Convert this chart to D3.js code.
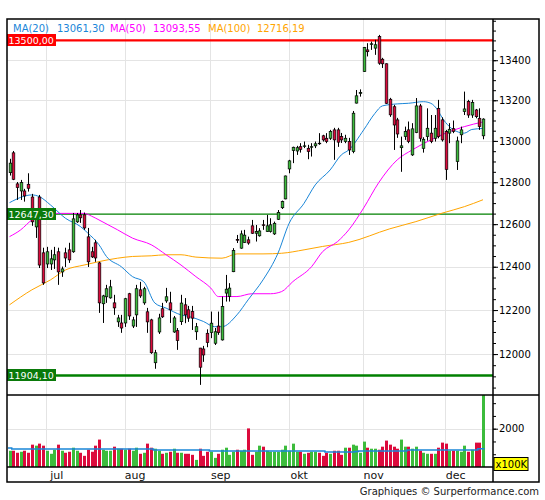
<!DOCTYPE html>
<html>
<head>
<meta charset="utf-8">
<title>Graphique</title>
<style>
  body { margin: 0; background: #fff; }
  text { font-family: "DejaVu Sans", Verdana, sans-serif; }
</style>
</head>
<body>
<svg id="main" width="545" height="500"></svg>
<script src="https://cdn.jsdelivr.net/npm/d3@7.8.5/dist/d3.min.js"></script>
<script>
// daily candles
const opens = [12846,12942,12792,12758,12758,12790,12729,12587,12729,12465,12413,12413,12432,12470,12376,12465,12479,12470,12611,12644,
  12644,12540,12470,12512,12418,12229,12261,12256,12233,12146,12141,12141,12275,12127,12178,12293,12233,12192,12155,11961,
  12100,12206,12242,12233,12100,12106,12147,12224,12201,12193,12101,12027,12023,12094,12097,12049,12127,12064,12278,12263,
  12377,12528,12487,12513,12526,12592,12557,12545,12597,12565,12565,12554,12623,12678,12720,12864,12953,12951,12972,12973,
  12964,12970,12976,12989,13025,13013,13013,13054,13054,13021,12997,12997,12948,13186,13234,13343,13452,13480,13461,13520,
  13405,13382,13205,13168,13103,12967,13021,13054,12932,13041,13172,12964,13021,13038,13013,13160,13103,13046,13038,13060,
  12900,13030,13144,13194,13127,13152,13111,13025]
const highs = [12913,12951,12801,12811,12768,12843,12744,12658,12739,12489,12493,12479,12493,12489,12401,12489,12512,12653,12653,12667,
  12655,12582,12493,12526,12423,12270,12316,12339,12270,12178,12178,12256,12279,12169,12316,12330,12307,12210,12160,12019,
  12183,12233,12302,12284,12173,12118,12270,12255,12219,12219,12141,12028,12037,12112,12193,12118,12193,12262,12362,12324,
  12487,12549,12570,12573,12541,12620,12596,12581,12620,12644,12628,12612,12667,12712,12832,12908,12972,12976,12989,12997,
  12981,12989,12997,13038,13030,13038,13054,13064,13064,13039,13030,13015,13147,13251,13254,13467,13486,13494,13503,13528,
  13412,13384,13212,13177,13113,13021,13070,13095,13087,13211,13182,13018,13160,13127,13127,13202,13116,13054,13087,13100,
  13021,13070,13243,13202,13202,13157,13160,13111]
const lows = [12832,12810,12715,12715,12707,12755,12592,12535,12394,12316,12394,12385,12390,12316,12353,12399,12418,12465,12606,12606,
  12573,12399,12441,12423,12187,12141,12233,12252,12178,12123,12096,12123,12155,12118,12123,12256,12224,12096,12001,11934,
  12091,12164,12233,12141,12096,12019,12132,12140,12146,12109,12064,11862,11965,12031,12072,12041,12087,12061,12239,12239,
  12375,12511,12484,12511,12503,12554,12518,12541,12573,12563,12560,12549,12620,12672,12718,12843,12892,12932,12943,12965,
  12911,12924,12965,12981,12997,12989,13005,12908,12971,12990,12989,12932,12940,13184,13218,13341,13419,13452,13427,13377,
  13361,13182,13118,12956,13015,12850,13005,12989,12927,13038,12997,12943,13001,12989,12997,13013,12997,12811,12989,13038,
  12859,12989,13127,13113,13113,13111,13054,13008]
const closes = [12892,12814,12774,12798,12734,12771,12611,12625,12408,12325,12470,12437,12456,12376,12390,12441,12432,12625,12644,12630,
  12582,12423,12446,12441,12233,12265,12298,12307,12210,12164,12118,12252,12173,12155,12298,12265,12298,12146,12006,12006,
  12164,12169,12261,12201,12164,12061,12232,12178,12163,12163,12124,11941,11996,12052,12140,12101,12097,12216,12296,12301,
  12476,12524,12554,12548,12511,12557,12565,12568,12594,12592,12597,12604,12656,12707,12830,12903,12969,12967,12959,12976,
  12948,12972,12986,12986,13005,12997,13046,13005,12994,13005,13013,12956,13136,13222,13238,13464,13443,13483,13478,13385,
  13382,13185,13128,13078,13034,12976,13046,12997,13059,13172,13013,13008,13062,12997,13062,13021,13005,12862,13057,13046,
  13000,13054,13157,13127,13189,13119,13070,13107]
// volume, units of 100K
const volumes = [849,849,743,796,849,743,1167,1114,1220,1114,849,690,902,1167,849,743,796,1008,849,743,
  583,902,796,1114,1432,902,849,849,1061,955,955,902,955,849,1008,690,743,1220,1008,955,
  849,690,743,796,955,743,743,690,690,636,371,955,583,796,796,477,690,902,1008,636,
  796,902,849,902,2016,636,796,1114,1061,849,796,796,796,902,1114,849,1220,796,796,690,
  743,796,796,743,583,743,690,849,849,636,1008,1008,1167,1114,743,1326,1008,955,955,902,
  1061,1379,1167,1061,955,1432,1061,1061,955,1061,849,743,690,690,690,1008,1273,1220,849,849,
  849,796,1114,796,902,1273,1273,3800]

// moving averages as [day, value]
const ma20 = [[0,12702],[6,12739],[8,12731],[11,12691],[15,12628],[19,12589],[21,12558],[24,12503],[26,12448],[30,12400],
  [33,12354],[36,12331],[39,12232],[42,12209],[46,12178],[48,12171],[52,12148],[55,12124],[57,12124],[61,12178],
  [64,12247],[68,12339],[72,12463],[75,12604],[79,12699],[82,12787],[86,12859],[89,12932],[91,12956],[95,13054],
  [98,13135],[100,13172],[104,13182],[107,13185],[111,13193],[113,13185],[115,13147],[116,13115],[118,13070],[120,13046],
  [122,13038],[124,13056],[127,13061]]
const ma50 = [[0,12541],[3,12573],[6,12620],[10,12651],[13,12651],[17,12651],[20,12651],[22,12638],[24,12620],[29,12573],
  [33,12534],[38,12503],[42,12456],[46,12408],[50,12354],[54,12301],[56,12262],[61,12262],[65,12275],[70,12275],
  [73,12285],[76,12331],[81,12400],[84,12471],[88,12518],[91,12573],[95,12677],[99,12797],[104,12908],[108,12956],
  [113,13005],[117,13038],[122,13070],[127,13093]]
const ma100 = [[0,12224],[6,12293],[11,12339],[15,12385],[20,12408],[24,12424],[29,12440],[33,12448],[38,12451],[42,12456],
  [46,12456],[50,12445],[57,12440],[61,12460],[68,12460],[73,12463],[79,12479],[84,12495],[91,12514],[102,12578],
  [109,12612],[116,12652],[122,12683],[127,12716]]
const volMa = [[0,990],[1,937],[39,884],[54,831],[85,778],[93,813],[94,831],[107,884],[126,955],[127,955]]

const maNames = ['MA(20)', 'MA(50)', 'MA(100)']
const maLast = [13061.30, 13093.55, 12716.19]
const levels = [13500.00, 12647.30, 11904.10]
const monthStarts = [10, 31, 54, 75, 95, 117]
const monthLabels = ['jul', 'aug', 'sep', 'okt', 'nov', 'dec']
const priceTicks = [12000, 12200, 12400, 12600, 12800, 13000, 13200, 13400]
const volTicks = [2000]

const svg = d3.select('#main')
const L = 7, R = 539, plotR = 493
const T = 19, mainB = 395, volB = 467, B = 482

const x = d3.scaleLinear().domain([0, opens.length - 1]).range([9.5, 483])
const y = d3.scaleLog().domain([11817, 13609]).range([mainB, T])
const yv = d3.scaleLinear().domain([0, 3760]).range([volB, mainB])
const fmt = v => d3.format('.2f')(v).replace('.', ',')

const up = '#3cbc3c', down = '#dc0a3c'
const maColors = ['#1a86d8', '#ff00ff', '#ffa500']

const data = opens.map((o, i) => ({ i, o, h: highs[i], l: lows[i], c: closes[i], v: volumes[i] }))

svg.append('defs').append('clipPath').attr('id', 'volclip')
  .append('rect').attr('x', L).attr('y', mainB).attr('width', plotR - L).attr('height', volB - mainB)

// grid
const grid = svg.append('g').attr('stroke', '#e4e4e4').attr('stroke-width', 1)
grid.selectAll('.hg').data(priceTicks).join('line')
  .attr('x1', L).attr('x2', plotR)
  .attr('y1', d => Math.round(y(d)) + 0.5).attr('y2', d => Math.round(y(d)) + 0.5)
grid.selectAll('.vg').data(volTicks).join('line')
  .attr('x1', L).attr('x2', plotR)
  .attr('y1', d => Math.round(yv(d)) + 0.5).attr('y2', d => Math.round(yv(d)) + 0.5)
grid.selectAll('.mg').data(monthStarts).join('line')
  .attr('x1', d => Math.round(x(d) - 0.5) + 0.5).attr('x2', d => Math.round(x(d) - 0.5) + 0.5)
  .attr('y1', T).attr('y2', volB)

// level lines
const levelColor = ['#ff0000', '#008000', '#008000']
const levelWidth = [2.4, 1.2, 2.4]
svg.selectAll('.lvl').data(levels).join('line')
  .attr('x1', L).attr('x2', plotR)
  .attr('y1', d => y(d)).attr('y2', d => y(d))
  .attr('stroke', (d, i) => levelColor[i]).attr('stroke-width', (d, i) => levelWidth[i])

// moving averages
const line = d3.line().x(d => x(d[0])).y(d => y(d[1])).curve(d3.curveMonotoneX)
;[ma100, ma50, ma20].forEach((s, k) => {
  svg.append('path').attr('d', line(s)).attr('fill', 'none')
    .attr('stroke', maColors[2 - k]).attr('stroke-width', 1)
})

// candles
const cx = i => Math.round(x(i)) + 0.5
const candles = svg.append('g')
candles.selectAll('.wick').data(data).join('line')
  .attr('x1', d => cx(d.i)).attr('x2', d => cx(d.i))
  .attr('y1', d => y(d.h)).attr('y2', d => y(d.l))
  .attr('stroke', '#000').attr('stroke-width', 1)
candles.selectAll('.body').data(data).join('rect')
  .attr('x', d => cx(d.i) - 1.3).attr('width', 2.6)
  .attr('y', d => y(Math.max(d.o, d.c)))
  .attr('height', d => Math.max(0.6, y(Math.min(d.o, d.c)) - y(Math.max(d.o, d.c))))
  .attr('fill', d => d.c >= d.o ? up : down)
  .attr('stroke', '#000').attr('stroke-width', 0.7)

// level labels
const lab = svg.selectAll('.lab').data(levels).join('g')
  .attr('transform', d => `translate(${L}, ${Math.round(y(d)) - 6})`)
lab.append('rect').attr('width', 49).attr('height', 12)
  .attr('fill', (d, i) => i === 0 ? '#ff0000' : '#0a7a0a')
lab.append('text').attr('x', 1.5).attr('y', 10).attr('font-size', 9.5).attr('fill', '#fff')
  .text(d => fmt(d))

// legend
const legX = [13, 57, 110, 153, 208, 257]
maNames.forEach((n, k) => {
  svg.append('text').attr('x', legX[2 * k]).attr('y', 31.5).attr('font-size', 10)
    .attr('fill', maColors[k]).text(n)
  svg.append('text').attr('x', legX[2 * k + 1]).attr('y', 31.5).attr('font-size', 10)
    .attr('fill', maColors[k]).text(fmt(maLast[k]))
})

// volume
const vol = svg.append('g').attr('clip-path', 'url(#volclip)')
vol.selectAll('rect').data(data).join('rect')
  .attr('x', d => Math.round(x(d.i)) - 1).attr('width', 3)
  .attr('y', d => yv(d.v)).attr('height', d => volB - yv(d.v))
  .attr('fill', d => d.c >= d.o ? up : down)
const vline = d3.line().x(d => x(d[0]) - 1.5).y(d => yv(d[1])).curve(d3.curveStepAfter)
vol.append('path').attr('d', vline(volMa.concat([[volMa[volMa.length - 1][0] + 0.8, volMa[volMa.length - 1][1]]])))
  .attr('fill', 'none').attr('stroke', '#1a86d8').attr('stroke-width', 1.5)

// right axes
const minor = d3.range(11850, 13601, 50)
svg.append('g').attr('transform', `translate(${plotR}, 0)`)
  .call(d3.axisRight(y).tickValues(minor).tickSize(3).tickFormat('').tickSizeOuter(0))
  .call(g => g.select('.domain').remove())
svg.append('g').attr('transform', `translate(${plotR}, 0)`)
  .call(d3.axisRight(y).tickValues(priceTicks).tickSize(5).tickPadding(1).tickFormat(d3.format('d')).tickSizeOuter(0))
  .call(g => g.select('.domain').remove())
  .call(g => g.selectAll('text').attr('font-size', 10).attr('font-family', '"DejaVu Sans", Verdana, sans-serif').attr('fill', '#000'))
svg.append('g').attr('transform', `translate(${plotR}, 0)`)
  .call(d3.axisRight(yv).tickValues(d3.range(1, 6).map(k => k * 2000 / 3)).tickSize(3).tickFormat('').tickSizeOuter(0))
  .call(g => g.select('.domain').remove())
svg.append('g').attr('transform', `translate(${plotR}, 0)`)
  .call(d3.axisRight(yv).tickValues(volTicks).tickSize(5).tickPadding(1).tickFormat(d3.format('d')).tickSizeOuter(0))
  .call(g => g.select('.domain').remove())
  .call(g => g.selectAll('text').attr('font-size', 10).attr('font-family', '"DejaVu Sans", Verdana, sans-serif').attr('fill', '#000'))

svg.append('rect').attr('x', 494).attr('y', 457.5).attr('width', 34).attr('height', 13)
  .attr('fill', '#ffff00').attr('stroke', '#000').attr('stroke-width', 1)
svg.append('text').attr('x', 495.5).attr('y', 468).attr('font-size', 10).text('x100K')

// month labels
svg.selectAll('.month').data(monthStarts).join('text')
  .attr('x', d => x(d) + 10).attr('y', 479).attr('text-anchor', 'middle')
  .attr('font-size', 11).attr('fill', '#111')
  .text((d, i) => monthLabels[i])

// frame
const frame = svg.append('g').attr('stroke', '#000').attr('stroke-width', 1.5).attr('fill', 'none')
frame.append('rect').attr('x', L).attr('y', T).attr('width', R - L).attr('height', B - T)
frame.append('line').attr('x1', plotR).attr('x2', plotR).attr('y1', T).attr('y2', B)
frame.append('line').attr('x1', L).attr('x2', R).attr('y1', mainB).attr('y2', mainB)
frame.append('line').attr('x1', L).attr('x2', plotR).attr('y1', volB).attr('y2', volB)

svg.append('text').attr('x', R).attr('y', 495).attr('text-anchor', 'end')
  .attr('font-size', 10).attr('fill', '#222').text('Graphiques © Surperformance.com')
</script>
</body>
</html>
